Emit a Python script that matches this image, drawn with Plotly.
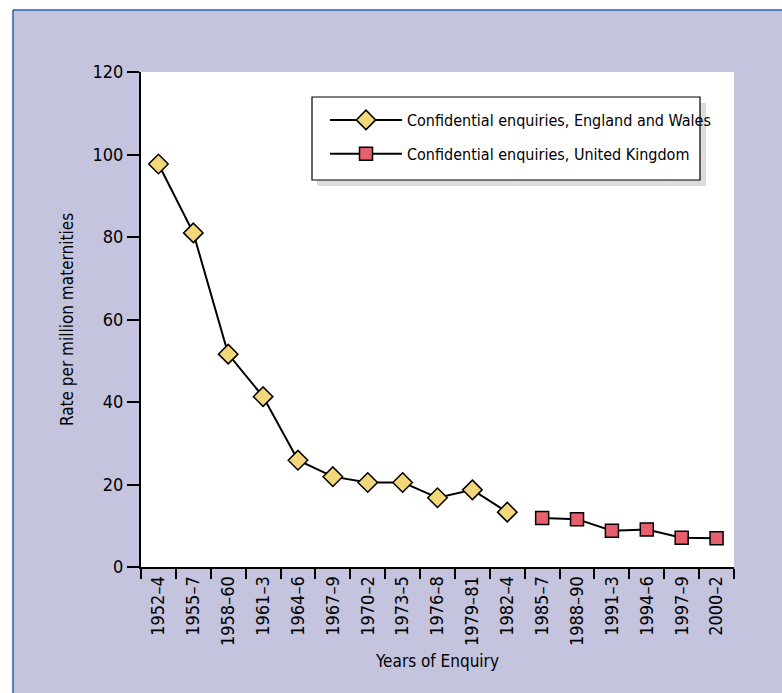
import plotly.graph_objects as go

categories = ["1952–4", "1955–7", "1958–60", "1961–3", "1964–6", "1967–9", "1970–2",
              "1973–5", "1976–8", "1979–81", "1982–4", "1985–7", "1988–90", "1991–3",
              "1994–6", "1997–9", "2000–2"]
ew_categories = categories[:11]
ew_values = [97.7, 81.0, 51.6, 41.3, 25.9, 21.9, 20.5, 20.5, 16.8, 18.7, 13.3]
uk_categories = categories[11:]
uk_values = [11.9, 11.6, 8.8, 9.1, 7.1, 7.0]
y_ticks = [0, 20, 40, 60, 80, 100, 120]

FONT = "Liberation Sans Narrow, Arial Narrow, DejaVu Sans Condensed, sans-serif"
LAV = "#C4C4DF"

W, H = 782, 693
L, R, T, B = 141, 48, 72, 126
pw, ph = W - L - R, H - T - B


def px_x(x):
    return (x - L) / pw


def px_y(y):
    return (H - B - y) / ph


fig = go.Figure()
fig.add_trace(go.Scatter(
    x=ew_categories, y=ew_values, mode="lines+markers",
    name="Confidential enquiries, England and Wales", legendgroup="a",
    line=dict(color="black", width=2),
    marker=dict(symbol="diamond", size=15, color="#F2D87A",
                line=dict(color="black", width=1.5)),
))
fig.add_trace(go.Scatter(
    x=uk_categories, y=uk_values, mode="lines+markers",
    name="Confidential enquiries, United Kingdom", legendgroup="b",
    line=dict(color="black", width=2),
    marker=dict(symbol="square", size=13, color="#E8606E",
                line=dict(color="black", width=1.5)),
))

shapes = [
    dict(type="rect", xref="paper", yref="paper", x0=px_x(-50), x1=px_x(900),
         y0=px_y(10), y1=px_y(-50), fillcolor="white", line=dict(width=0), layer="below"),
    dict(type="rect", xref="paper", yref="paper", x0=px_x(-50), x1=px_x(13),
         y0=px_y(800), y1=px_y(-50), fillcolor="white", line=dict(width=0), layer="below"),
    dict(type="line", xref="paper", yref="paper", x0=px_x(13), x1=px_x(900),
         y0=px_y(10), y1=px_y(10), line=dict(color="#2F5EA6", width=1.5)),
    dict(type="line", xref="paper", yref="paper", x0=px_x(13), x1=px_x(13),
         y0=px_y(10), y1=px_y(800), line=dict(color="#2F5EA6", width=1.5)),
    dict(type="rect", xref="paper", yref="paper", x0=px_x(317), x1=px_x(706),
         y0=px_y(186), y1=px_y(103), fillcolor="#DCDCDC", line=dict(width=0), layer="above"),
    dict(type="rect", xref="paper", yref="paper", x0=px_x(312), x1=px_x(700),
         y0=px_y(180), y1=px_y(97), fillcolor="white",
         line=dict(color="black", width=1.2), layer="above"),
]

fig.update_layout(
    width=W, height=H,
    margin=dict(l=L, r=R, t=T, b=B, pad=0),
    paper_bgcolor=LAV, plot_bgcolor="white",
    font=dict(family=FONT, size=17, color="black"),
    showlegend=True,
    legend=dict(x=px_x(325), y=px_y(103), xanchor="left", yanchor="top",
                bgcolor="rgba(0,0,0,0)", borderwidth=0, tracegroupgap=10,
                itemwidth=72,
                font=dict(family=FONT, size=16, color="black")),
    shapes=shapes,
    xaxis=dict(
        categoryorder="array", categoryarray=categories, type="category",
        range=[-0.5, len(categories) - 0.5],
        showline=True, linecolor="black", linewidth=2, mirror=False,
        ticks="outside", tickson="boundaries", ticklen=10, tickwidth=1.5, tickcolor="black",
        tickangle=-90, showgrid=False, zeroline=False,
        tickfont=dict(family=FONT, size=18),
        title=dict(text="Years of Enquiry", standoff=10, font=dict(family=FONT, size=17)),
    ),
    yaxis=dict(
        range=[0, 120], tickvals=y_ticks, ticktext=[str(v) for v in y_ticks],
        showline=True, linecolor="black", linewidth=2,
        ticks="outside", ticklen=12, tickwidth=1.5, tickcolor="black",
        showgrid=False, zeroline=False,
        tickfont=dict(family=FONT, size=18),
        title=dict(text="Rate per million maternities", standoff=15,
                   font=dict(family=FONT, size=17)),
    ),
)

fig.write_html("out.html", config={"displayModeBar": False},
               post_script="document.body.style.margin='0px';document.body.style.overflow='hidden';")
